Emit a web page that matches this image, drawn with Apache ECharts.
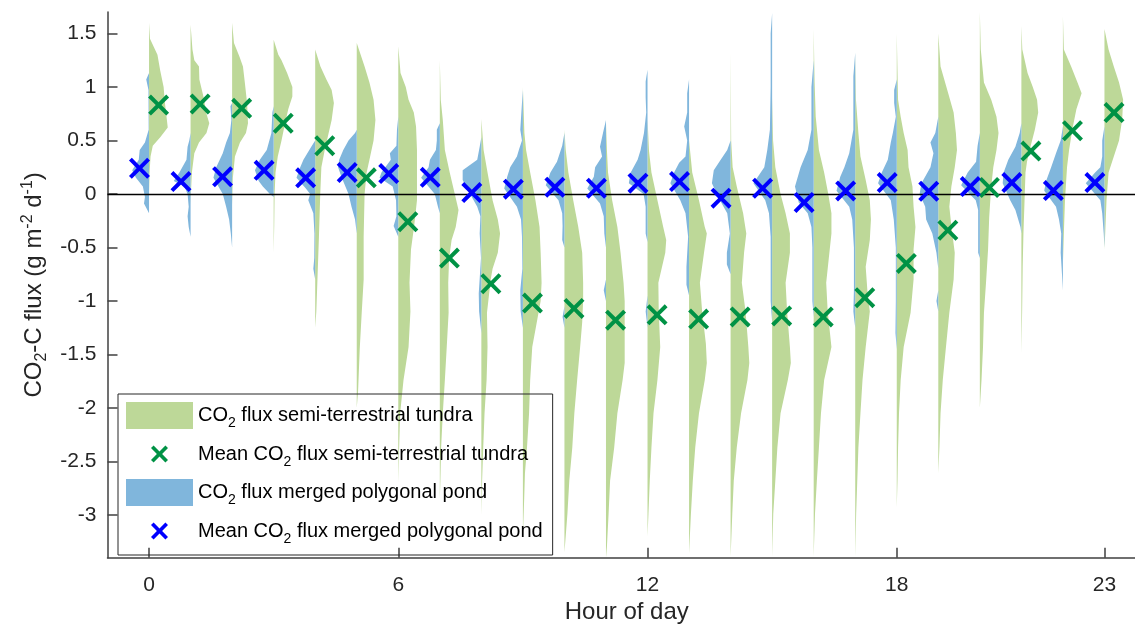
<!DOCTYPE html>
<html>
<head>
<meta charset="utf-8">
<script src="https://cdn.jsdelivr.net/npm/echarts@6/dist/echarts.min.js"></script>
<style>
  html, body { margin: 0; background: #fff; }
  #chart { width: 1135px; height: 625px; }
</style>
</head>
<body>
<div id="chart"></div>
<script>
// hour of day (x positions)
var hours = [0,1,2,3,4,5,6,7,8,9,10,11,12,13,14,15,16,17,18,19,20,21,22,23];
var hourTicks = [0, 6, 12, 18, 23];
var fluxTicks = [-3, -2.5, -2, -1.5, -1, -0.5, 0, 0.5, 1, 1.5];

// mean CO2 flux per hour
var tundraMean = [0.83,0.84,0.80,0.66,0.45,0.15,-0.26,-0.60,-0.84,-1.02,-1.07,-1.18,-1.13,-1.17,-1.15,-1.14,-1.15,-0.97,-0.65,-0.34,0.06,0.40,0.59,0.76];
var pondMean = [0.24,0.115,0.16,0.22,0.15,0.20,0.19,0.155,0.012,0.044,0.063,0.053,0.10,0.115,-0.04,0.053,-0.08,0.028,0.106,0.025,0.068,0.106,0.031,0.106];

// half violin outlines: [flux, relative density] from top to bottom
var tundraShape = [
  [[1.6,0],[1.45,0.05],[1.3,0.45],[1.15,0.6],[1.0,0.78],[0.85,0.85],[0.7,0.95],[0.62,1.0],[0.53,0.6],[0.45,0.2],[0.35,0.08],[0.2,0.03],[0.0,0]],
  [[1.58,0],[1.35,0.1],[1.25,0.2],[1.19,0.45],[1.07,0.47],[0.9,0.7],[0.75,0.85],[0.66,1.0],[0.57,0.85],[0.48,0.45],[0.38,0.2],[0.2,0.07],[0.05,0.03],[-0.1,0]],
  [[1.6,0],[1.41,0.1],[1.28,0.4],[1.19,0.58],[1.04,0.68],[0.85,0.8],[0.66,0.85],[0.57,0.74],[0.48,0.42],[0.35,0.15],[0.15,0.04],[-0.1,0]],
  [[1.44,0],[1.3,0.25],[1.25,0.42],[1.13,0.72],[1.0,1.0],[0.91,1.0],[0.79,0.78],[0.65,0.6],[0.5,0.42],[0.35,0.22],[0.2,0.1],[0.0,0.05],[-0.3,0.03],[-0.55,0]],
  [[1.35,0],[1.19,0.28],[1.07,0.6],[0.97,0.88],[0.85,1.0],[0.69,0.88],[0.57,0.72],[0.4,0.5],[0.25,0.33],[0.0,0.27],[-0.4,0.2],[-0.8,0.12],[-1.1,0.06],[-1.25,0]],
  [[1.41,0],[1.19,0.42],[1.04,0.68],[0.88,0.9],[0.69,1.0],[0.5,0.9],[0.32,0.68],[0.2,0.53],[0.0,0.42],[-0.4,0.37],[-0.8,0.37],[-1.1,0.27],[-1.45,0.16],[-1.85,0.07],[-2.0,0]],
  [[1.38,0],[1.13,0.12],[1.0,0.4],[0.88,0.55],[0.76,0.83],[0.63,0.95],[0.41,1.0],[0.1,1.0],[-0.06,1.0],[-0.3,0.85],[-0.52,0.68],[-0.83,0.6],[-1.1,0.65],[-1.43,0.55],[-1.74,0.28],[-2.05,0.1],[-2.4,0.04],[-2.7,0]],
  [[1.25,0],[0.88,0.05],[0.69,0.16],[0.41,0.27],[0.2,0.53],[0.0,0.8],[-0.15,1.0],[-0.31,0.85],[-0.43,0.63],[-0.6,0.5],[-0.83,0.45],[-1.11,0.47],[-1.43,0.37],[-1.74,0.27],[-2.05,0.16],[-2.37,0.07],[-2.68,0.03],[-2.85,0]],
  [[0.7,0],[0.41,0.12],[0.2,0.33],[-0.06,0.6],[-0.24,0.88],[-0.37,1.0],[-0.55,0.88],[-0.7,0.6],[-0.8,0.5],[-0.99,0.38],[-1.11,0.3],[-1.43,0.33],[-1.74,0.28],[-2.05,0.17],[-2.37,0.1],[-2.68,0.04],[-3.0,0]],
  [[1.0,0],[0.57,0.08],[0.41,0.17],[0.2,0.39],[-0.06,0.67],[-0.31,0.89],[-0.55,0.95],[-0.83,1.0],[-1.0,0.95],[-1.27,0.67],[-1.43,0.5],[-1.74,0.39],[-2.05,0.33],[-2.37,0.22],[-2.61,0.11],[-2.84,0.07],[-3.2,0]],
  [[0.6,0],[0.41,0.07],[0.2,0.21],[-0.06,0.47],[-0.31,0.74],[-0.55,0.95],[-0.83,1.0],[-1.0,1.0],[-1.2,0.95],[-1.43,0.84],[-1.74,0.68],[-2.05,0.53],[-2.37,0.42],[-2.68,0.26],[-2.99,0.16],[-3.24,0.05],[-3.35,0]],
  [[0.66,0],[0.41,0.05],[0.2,0.11],[-0.06,0.33],[-0.31,0.61],[-0.55,0.78],[-0.83,0.94],[-1.0,1.0],[-1.3,1.0],[-1.58,1.0],[-1.74,0.89],[-2.05,0.61],[-2.37,0.44],[-2.68,0.22],[-2.99,0.14],[-3.3,0.05],[-3.4,0]],
  [[0.7,0],[0.4,0.08],[0.2,0.21],[-0.06,0.53],[-0.31,0.84],[-0.43,1.0],[-0.55,0.95],[-0.83,0.58],[-1.1,0.6],[-1.43,0.68],[-1.74,0.53],[-2.05,0.32],[-2.37,0.21],[-2.68,0.12],[-2.99,0.05],[-3.2,0]],
  [[0.5,0],[0.2,0.17],[-0.06,0.53],[-0.31,0.84],[-0.37,0.95],[-0.55,0.8],[-0.83,0.58],[-1.1,0.7],[-1.4,0.9],[-1.58,0.95],[-1.74,0.84],[-2.05,0.53],[-2.37,0.33],[-2.68,0.2],[-2.99,0.1],[-3.36,0]],
  [[1.32,0],[0.5,0.03],[0.25,0.11],[0.07,0.33],[-0.18,0.67],[-0.37,0.84],[-0.55,0.72],[-0.83,0.6],[-1.1,0.8],[-1.43,0.95],[-1.58,1.0],[-1.74,0.9],[-2.05,0.56],[-2.37,0.33],[-2.68,0.17],[-2.99,0.09],[-3.39,0]],
  [[0.9,0],[0.5,0.05],[0.25,0.17],[0.0,0.45],[-0.18,0.72],[-0.37,0.95],[-0.55,0.95],[-0.83,0.72],[-1.1,0.8],[-1.43,0.95],[-1.58,1.0],[-1.74,0.84],[-2.05,0.45],[-2.37,0.28],[-2.68,0.17],[-2.99,0.06],[-3.39,0]],
  [[1.54,0],[1.04,0.05],[0.72,0.11],[0.41,0.28],[0.2,0.56],[0.0,0.78],[-0.18,0.95],[-0.37,0.95],[-0.55,0.84],[-0.83,0.67],[-1.1,0.75],[-1.43,0.95],[-1.74,0.56],[-2.05,0.39],[-2.37,0.28],[-2.68,0.17],[-2.99,0.07],[-3.39,0]],
  [[1.32,0],[0.88,0.04],[0.57,0.17],[0.35,0.28],[0.13,0.56],[-0.06,0.78],[-0.24,0.84],[-0.43,0.78],[-0.68,0.56],[-0.9,0.65],[-1.1,0.78],[-1.43,0.56],[-1.74,0.39],[-2.05,0.28],[-2.37,0.17],[-2.68,0.11],[-2.99,0.05],[-3.39,0]],
  [[1.5,0],[0.88,0.07],[0.72,0.21],[0.57,0.37],[0.41,0.58],[0.25,0.63],[0.07,0.84],[-0.12,0.9],[-0.31,1.0],[-0.52,0.9],[-0.8,0.9],[-1.11,0.74],[-1.43,0.37],[-1.74,0.21],[-2.05,0.12],[-2.37,0.07],[-2.68,0.04],[-2.93,0]],
  [[1.5,0],[1.19,0.12],[0.94,0.53],[0.76,0.82],[0.57,0.94],[0.41,1.0],[0.25,0.88],[0.07,0.7],[-0.12,0.59],[-0.3,0.7],[-0.55,0.88],[-0.8,0.82],[-1.11,0.59],[-1.43,0.41],[-1.74,0.24],[-2.05,0.12],[-2.37,0.06],[-2.61,0]],
  [[1.7,0],[1.35,0.05],[1.04,0.22],[0.88,0.61],[0.72,0.89],[0.57,1.0],[0.41,0.89],[0.25,0.72],[0.05,0.6],[-0.22,0.5],[-0.52,0.44],[-0.83,0.33],[-1.11,0.22],[-1.43,0.17],[-1.74,0.09],[-2.0,0]],
  [[1.57,0],[1.35,0.05],[1.13,0.33],[1.0,0.61],[0.88,0.84],[0.76,0.9],[0.6,0.72],[0.45,0.5],[0.3,0.3],[0.2,0.22],[-0.06,0.17],[-0.37,0.11],[-0.68,0.07],[-1.1,0.04],[-1.49,0]],
  [[1.66,0],[1.35,0.05],[1.19,0.44],[1.04,0.78],[0.94,1.0],[0.79,0.72],[0.6,0.5],[0.41,0.33],[0.25,0.22],[-0.06,0.11],[-0.37,0.05],[-0.65,0]],
  [[1.54,0],[1.35,0.22],[1.19,0.5],[1.04,0.78],[0.88,1.0],[0.7,0.95],[0.5,0.78],[0.35,0.5],[0.2,0.22],[-0.06,0.11],[-0.37,0.04],[-0.52,0]]
];

var pondShape = [
  [[1.13,0],[1.07,0.15],[0.97,0.03],[0.6,0.02],[0.48,0.22],[0.41,0.5],[0.32,0.55],[0.22,0.9],[0.15,0.7],[0.07,0.33],[-0.03,0.22],[-0.09,0.27],[-0.18,0]],
  [[0.57,0],[0.5,0.07],[0.44,0.16],[0.32,0.22],[0.2,0.6],[0.12,0.9],[0.07,0.33],[0.0,0.16],[-0.12,0.1],[-0.21,0.16],[-0.31,0.1],[-0.4,0]],
  [[0.85,0],[0.82,0.09],[0.69,0.04],[0.57,0.12],[0.48,0.32],[0.38,0.5],[0.25,0.85],[0.15,1.0],[0.0,0.5],[-0.12,0.32],[-0.24,0.16],[-0.37,0.07],[-0.5,0]],
  [[0.82,0],[0.76,0.07],[0.57,0.12],[0.41,0.37],[0.32,0.74],[0.22,1.0],[0.12,0.8],[0.07,0.58],[0.0,0.2],[-0.03,0]],
  [[0.5,0],[0.44,0.21],[0.32,0.63],[0.25,0.8],[0.15,1.0],[0.05,0.5],[0.0,0.27],[-0.06,0.37],[-0.18,0.1],[-0.37,0.04],[-0.6,0.05],[-0.7,0.1],[-0.8,0]],
  [[0.6,0],[0.57,0.09],[0.5,0.44],[0.41,0.72],[0.32,0.94],[0.25,1.0],[0.15,0.8],[0.0,0.44],[-0.12,0.28],[-0.24,0.09],[-0.37,0]],
  [[0.72,0],[0.6,0.07],[0.45,0.1],[0.38,0.45],[0.32,0.4],[0.2,0.9],[0.15,1.0],[0.07,0.3],[-0.06,0.12],[-0.21,0.1],[-0.3,0.25],[-0.4,0]],
  [[0.66,0],[0.6,0.16],[0.5,0.16],[0.41,0.21],[0.32,0.53],[0.25,0.6],[0.15,1.0],[0.0,0.27],[-0.12,0.1],[-0.18,0]],
  [[0.53,0],[0.44,0.09],[0.32,0.22],[0.22,1.0],[0.13,1.0],[0.0,0.6],[-0.12,0.22],[-0.21,0.05],[-0.37,0.09],[-0.6,0.02],[-0.93,0.14],[-1.1,0.12],[-1.3,0]],
  [[0.97,0],[0.85,0.05],[0.6,0.14],[0.5,0.05],[0.42,0.2],[0.35,0.32],[0.25,0.68],[0.16,0.84],[0.05,1.0],[-0.12,0.32],[-0.24,0.1],[-0.4,0.05],[-0.7,0.03],[-0.9,0.14],[-1.1,0.12],[-1.25,0]],
  [[0.57,0],[0.45,0.12],[0.3,0.4],[0.2,0.75],[0.08,1.0],[-0.06,0.32],[-0.18,0.12],[-0.3,0.1],[-0.43,0.12],[-0.5,0],[-1.05,0],[-1.15,0.1],[-1.25,0]],
  [[0.69,0],[0.57,0.16],[0.44,0.32],[0.35,0.21],[0.25,0.58],[0.16,0.65],[0.05,1.0],[-0.09,0.32],[-0.21,0.12],[-0.37,0.09],[-0.5,0],[-0.8,0],[-0.9,0.12],[-1.0,0]],
  [[1.16,0],[1.05,0.1],[0.9,0.1],[0.76,0.07],[0.57,0.19],[0.41,0.37],[0.32,0.53],[0.2,0.9],[0.1,1.0],[0.0,0.21],[-0.12,0.1],[-0.37,0.1],[-0.45,0],[-0.95,0],[-1.1,0.1],[-1.25,0]],
  [[1.07,0],[0.94,0.1],[0.76,0.1],[0.63,0.26],[0.5,0.1],[0.35,0.19],[0.29,0.53],[0.2,0.8],[0.1,1.0],[-0.06,0.47],[-0.18,0.19],[-0.4,0.05],[-0.68,0.14],[-0.85,0.14],[-0.95,0]],
  [[0.5,0],[0.41,0.18],[0.32,0.53],[0.22,0.9],[0.1,1.0],[-0.05,0.6],[-0.18,0.18],[-0.37,0.04],[-0.55,0.2],[-0.66,0.2],[-0.75,0]],
  [[1.69,0],[1.5,0.08],[1.0,0.08],[0.6,0.12],[0.41,0.26],[0.25,0.42],[0.1,1.0],[-0.06,0.37],[-0.18,0.17],[-0.4,0.08],[-0.8,0.08],[-1.0,0.08],[-1.2,0]],
  [[1.25,0],[1.0,0.12],[0.6,0.12],[0.41,0.32],[0.25,0.7],[0.07,1.0],[-0.08,0.8],[-0.18,0.32],[-0.31,0.12],[-0.5,0.07],[-1.0,0.07],[-1.15,0]],
  [[1.32,0],[1.1,0.1],[0.6,0.1],[0.38,0.32],[0.25,0.58],[0.16,0.8],[0.03,1.0],[-0.12,0.32],[-0.24,0.16],[-0.5,0.07],[-0.9,0.07],[-1.1,0.1],[-1.25,0]],
  [[1.07,0],[0.97,0.14],[0.85,0.14],[0.72,0.05],[0.57,0.21],[0.48,0.32],[0.32,0.48],[0.2,0.8],[0.1,1.0],[-0.06,0.32],[-0.24,0.16],[-0.5,0.05],[-1.0,0.05],[-1.3,0.07],[-1.45,0]],
  [[0.72,0],[0.57,0.16],[0.48,0.42],[0.38,0.26],[0.25,0.42],[0.1,0.9],[0.0,1.0],[-0.12,0.7],[-0.24,0.65],[-0.37,0.32],[-0.55,0.1],[-0.7,0],[-0.9,0],[-1.0,0.1],[-1.1,0]],
  [[0.57,0],[0.45,0.12],[0.3,0.2],[0.2,0.65],[0.08,1.0],[-0.06,0.22],[-0.15,0.09],[-0.4,0.09],[-0.55,0.09],[-0.6,0]],
  [[0.66,0],[0.57,0.09],[0.44,0.32],[0.32,0.7],[0.2,0.95],[0.1,1.0],[-0.06,0.6],[-0.15,0.32],[-0.31,0.05],[-0.37,0]],
  [[0.63,0],[0.5,0.12],[0.38,0.37],[0.25,0.63],[0.12,0.9],[0.03,1.0],[-0.12,0.37],[-0.24,0.21],[-0.37,0.09],[-0.55,0.12],[-0.75,0.05],[-0.9,0]],
  [[0.63,0],[0.5,0.12],[0.35,0.12],[0.25,0.22],[0.2,0.5],[0.1,1.0],[-0.06,0.22],[-0.18,0.12],[-0.37,0.04],[-0.5,0]]
];

var font = "'Liberation Sans', Arial, sans-serif";
var axisColor = "#404040";
var halfWidth = 0.45;   // violin max half width, in hours
var markShift = 0.23;   // mean markers sit left / right of the hour

// filled "x" outline, box of 2r around (cx, cy), arm offset a
function crossPath(cx, cy, r, a) {
  var p = [
    [cx - r, cy - r + a], [cx - r + a, cy - r], [cx, cy - a], [cx + r - a, cy - r],
    [cx + r, cy - r + a], [cx + a, cy], [cx + r, cy + r - a], [cx + r - a, cy + r],
    [cx, cy + a], [cx - r + a, cy + r], [cx - r, cy + r - a], [cx - a, cy]
  ];
  return "M" + p.map(function (q) { return q[0] + "," + q[1]; }).join("L") + "Z";
}
var crossSymbol = "path://" + crossPath(10, 10, 10, 2.7);
// legend icon: small cross centred in the 67x27 legend slot
var crossIcon = "path://M0,0L0.05,0L0,0.05Z M67,27L66.95,27L67,26.95Z " + crossPath(33.5, 13.5, 8.5, 2.6);

function violin(shapes, side) {
  return function (params, api) {
    var h = api.value(0);
    var prof = shapes[params.dataIndex];
    var pts = [api.coord([h, prof[0][0]])];
    for (var i = 0; i < prof.length; i++) {
      pts.push(api.coord([h + side * prof[i][1] * halfWidth, prof[i][0]]));
    }
    pts.push(api.coord([h, prof[prof.length - 1][0]]));
    return {
      type: "polygon",
      shape: { points: pts },
      style: { fill: api.visual("color") }
    };
  };
}

var names = [
  "CO2 flux semi-terrestrial tundra",
  "Mean CO2 flux semi-terrestrial tundra",
  "CO2 flux merged polygonal pond",
  "Mean CO2 flux merged polygonal pond"
];

var myChart = echarts.init(document.getElementById("chart"));
var option = {
  animation: false,
  backgroundColor: "#fff",
  textStyle: { fontFamily: font },
  grid: { left: 107.5, right: -11, top: 12, bottom: 67.3, containLabel: false, outerBoundsMode: "none" },
  legend: {
    orient: "vertical",
    left: 118,
    top: 394,
    padding: [8, 10, 9, 8],
    itemGap: 10,
    itemWidth: 67,
    itemHeight: 27,
    borderColor: "#262626",
    borderWidth: 1,
    selectedMode: false,
    data: [
      { name: names[0], icon: "rect" },
      { name: names[1], icon: crossIcon },
      { name: names[2], icon: "rect" },
      { name: names[3], icon: crossIcon }
    ],
    formatter: function (name) {
      return name.replace("CO2", "CO{sub|2}");
    },
    textStyle: {
      fontFamily: font,
      fontSize: 20,
      color: "#000",
      rich: {
        sub: { fontFamily: font, fontSize: 14, color: "#000", padding: [16, 0, 0, 0] }
      }
    }
  },
  xAxis: {
    type: "value",
    min: -1,
    max: 24,
    name: "Hour of day",
    nameLocation: "middle",
    nameGap: 40,
    nameTextStyle: { fontFamily: font, fontSize: 24, color: "#262626" },
    splitLine: { show: false },
    axisLine: { onZero: false, lineStyle: { color: axisColor, width: 1.5 } },
    axisTick: { inside: true, length: 10, customValues: hourTicks, lineStyle: { color: axisColor, width: 1.5 } },
    axisLabel: { customValues: hourTicks, margin: 17, fontFamily: font, fontSize: 21, color: "#262626" }
  },
  yAxis: {
    type: "value",
    min: -3.4,
    max: 1.7,
    name: "CO{sub|2}-C flux (g m{sup|-2} d{sup|-1})",
    nameLocation: "middle",
    nameRotate: 90,
    nameGap: 58,
    nameTextStyle: {
      fontFamily: font,
      fontSize: 24,
      color: "#262626",
      rich: {
        sub: { fontFamily: font, fontSize: 16, color: "#262626", padding: [15, 0, 0, 0] },
        sup: { fontFamily: font, fontSize: 16, color: "#262626", padding: [0, 0, 13, 0] }
      }
    },
    splitLine: { show: false },
    axisLine: { onZero: false, lineStyle: { color: axisColor, width: 1.5 } },
    axisTick: { inside: true, length: 10, customValues: fluxTicks, lineStyle: { color: axisColor, width: 1.5 } },
    axisLabel: { customValues: fluxTicks, margin: 11, fontFamily: font, fontSize: 21, color: "#262626" }
  },
  series: [
    {
      name: names[0],
      type: "custom",
      z: 2,
      itemStyle: { color: "#bdd898" },
      renderItem: violin(tundraShape, 1),
      data: hours.map(function (h) { return [h]; }),
      markLine: {
        silent: true,
        z: 5,
        symbol: "none",
        label: { show: false },
        lineStyle: { color: "#000", width: 1.3, type: "solid" },
        data: [{ yAxis: 0 }]
      }
    },
    {
      name: names[2],
      type: "custom",
      z: 2,
      itemStyle: { color: "#80b6dc" },
      renderItem: violin(pondShape, -1),
      data: hours.map(function (h) { return [h]; })
    },
    {
      name: names[1],
      type: "scatter",
      z: 6,
      symbol: crossSymbol,
      symbolSize: 21,
      itemStyle: { color: "#009245", opacity: 1 },
      data: hours.map(function (h, i) { return [h + markShift, tundraMean[i]]; })
    },
    {
      name: names[3],
      type: "scatter",
      z: 6,
      symbol: crossSymbol,
      symbolSize: 21,
      itemStyle: { color: "#0000ff", opacity: 1 },
      data: hours.map(function (h, i) { return [h - markShift, pondMean[i]]; })
    }
  ]
};
myChart.setOption(option);
</script>
</body>
</html>
